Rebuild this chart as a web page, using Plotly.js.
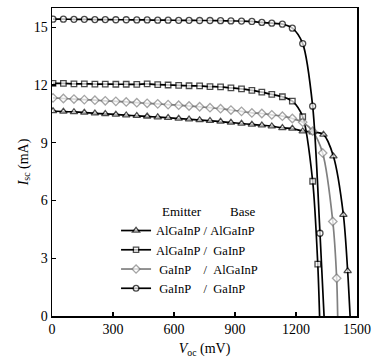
<!DOCTYPE html>
<html>
<head>
<meta charset="utf-8">
<script src="https://cdn.plot.ly/plotly-3.0.1.min.js"></script>
<style>html,body{margin:0;padding:0;background:#fff;}#chart{width:381px;height:364px;}</style>
</head>
<body>
<div id="chart"></div>
<script>
// Shared voltage grid (mV) of the measured points
const vGrid = [5,56,108,159,211,262,314,365,417,468,520,571,623,674,726,777,829,880,932,983,1032,1081,1133,1182,1233,1282];

// AlGaInP / AlGaInP (triangles)
const vTri = vGrid.concat([1335,1384,1433,1454]);
const iTri = [10.65,10.62,10.60,10.57,10.53,10.50,10.47,10.43,10.40,10.37,10.33,10.30,10.26,10.22,10.18,10.14,10.10,10.05,10.00,9.95,9.91,9.86,9.77,9.74,9.60,9.55,9.43,8.30,5.26,2.34];
const vocTri = 1466;

// AlGaInP / GaInP (squares)
const vSq = vGrid.concat([1307]);
const iSq = [12.08,12.08,12.06,12.06,12.05,12.05,12.04,12.04,12.03,12.06,12.02,12.00,11.98,11.96,11.95,11.92,11.90,11.85,11.80,11.72,11.63,11.51,11.39,11.16,10.35,7.00,2.69];
const vocSq = 1316;

// GaInP / AlGaInP (diamonds)
const vDia = vGrid.concat([1331,1381,1400]);
const iDia = [11.33,11.30,11.27,11.24,11.21,11.18,11.15,11.12,11.08,11.05,11.02,10.98,10.95,10.91,10.87,10.82,10.77,10.70,10.63,10.55,10.52,10.45,10.38,10.26,10.07,9.60,8.47,4.91,1.96];
const vocDia = 1405;

// GaInP / GaInP (circles)
const vCir = vGrid.concat([1318]);
const iCir = [15.42,15.42,15.41,15.41,15.40,15.40,15.39,15.39,15.38,15.38,15.37,15.37,15.36,15.36,15.35,15.35,15.34,15.33,15.32,15.30,15.25,15.21,15.16,14.95,14.15,10.90,4.30];
const vocCir = 1338;

const names = [
  "AlGaInP\u00a0/\u00a0AlGaInP",
  "AlGaInP\u00a0/\u00a0\u00a0GaInP",
  "\u00a0GaInP\u00a0\u00a0\u00a0\u00a0/\u00a0\u00a0AlGaInP",
  "\u00a0GaInP\u00a0\u00a0\u00a0\u00a0/\u00a0\u00a0GaInP"
];
const xTicks = [0,300,600,900,1200,1500];
const yTicks = [0,3,6,9,12,15];

const FONT = "Liberation Serif, Times New Roman, serif";

function series(v, i, voc, name, symbol, color, msize) {
  const sizes = v.map(() => msize).concat([0]);
  return {
    type: 'scatter', mode: 'lines+markers', name: name,
    x: v.concat([voc]), y: i.concat([0]),
    line: {color: color, width: 1.7, shape: 'spline', smoothing: 0.8},
    marker: {symbol: symbol, size: sizes, color: '#ffffff', line: {color: color, width: 1.3}},
    cliponaxis: true
  };
}

const data = [
  series(vTri, iTri, vocTri, names[0], 'triangle-up', '#000000', 6.5),
  series(vSq, iSq, vocSq, names[1], 'square', '#000000', 5.5),
  series(vDia, iDia, vocDia, names[2], 'diamond', '#808080', 6.5),
  series(vCir, iCir, vocCir, names[3], 'circle', '#000000', 6)
];

const axisCommon = {
  showgrid: false, zeroline: false, showline: true, linecolor: '#000', linewidth: 1.5,
  mirror: true, ticks: 'inside', ticklen: 4, tickwidth: 1.3, tickcolor: '#000',
  tickfont: {family: FONT, size: 14, color: '#000'}
};

const layout = {
  width: 381, height: 364,
  margin: {l: 52, r: 24, t: 8, b: 48},
  paper_bgcolor: '#fff', plot_bgcolor: '#fff',
  font: {family: FONT, size: 12.5, color: '#000'},
  showlegend: true,
  legend: {x: 0.21, y: 0.325, xanchor: 'left', yanchor: 'top', bgcolor: 'rgba(0,0,0,0)',
           font: {family: FONT, size: 12.5, color: '#000'}, tracegroupgap: 0},
  xaxis: Object.assign({}, axisCommon, {
    range: [0, 1500], tickvals: xTicks, ticktext: xTicks.map(String),
    title: {text: '<i>V</i><sub>oc</sub> (mV)', font: {family: FONT, size: 14}, standoff: 7}
  }),
  yaxis: Object.assign({}, axisCommon, {
    range: [0, 16], tickvals: yTicks, ticktext: yTicks.map(String),
    title: {text: '<i>I</i><sub>sc</sub> (mA)', font: {family: FONT, size: 14}, standoff: 2}
  }),
  annotations: [
    {xref: 'paper', yref: 'paper', x: 0.354, y: 0.34, xanchor: 'left', yanchor: 'middle',
     text: 'Emitter', showarrow: false, font: {family: FONT, size: 13, color: '#000'}},
    {xref: 'paper', yref: 'paper', x: 0.577, y: 0.34, xanchor: 'left', yanchor: 'middle',
     text: 'Base', showarrow: false, font: {family: FONT, size: 13, color: '#000'}}
  ]
};

Plotly.newPlot('chart', data, layout, {staticPlot: true, displayModeBar: false});
</script>
</body>
</html>
